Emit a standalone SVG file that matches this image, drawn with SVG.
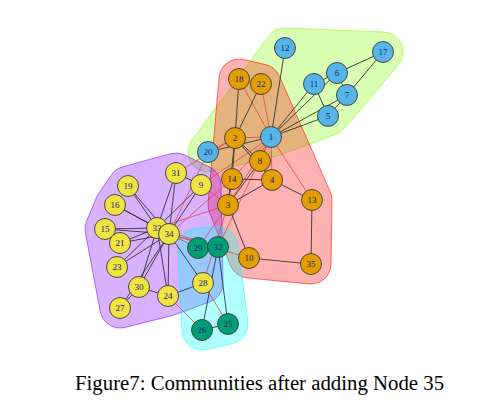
<svg xmlns="http://www.w3.org/2000/svg" width="482" height="413" viewBox="0 0 482 413">
<style>
.hull{stroke-width:1;stroke-opacity:0.55}
.e{stroke:#333333;stroke-width:0.9;fill:none}
.x{stroke:#e23c3c;stroke-opacity:0.8;stroke-width:0.9;fill:none}
.n circle{stroke:#3a3a3a;stroke-width:0.9}
.n text{font-family:"Liberation Serif","Times New Roman",serif;font-size:9px;fill:#10207a;text-anchor:middle}
.B circle{fill:#56B4E9}
.O circle{fill:#E69F00}
.T circle{fill:#009E73}
.Y circle{fill:#F0E442}
.cap{font-family:"Liberation Serif","Times New Roman",serif;font-size:20.8px;fill:#000}
</style>
<rect width="482" height="413" fill="#ffffff"/>
<g id="hulls">
<path id="hull-blue" class="hull" fill="#80FF00" fill-opacity="0.3" stroke="#80FF00" d="M 191.93,140.10 L 268.93,36.10 A 20 20 0 0 1 285.82,28.02 L 383.82,32.02 A 20 20 0 0 1 398.34,64.84 L 362.34,107.84 A 20 20 0 0 1 361.83,108.42 L 342.83,129.42 A 20 20 0 0 1 334.91,134.77 L 277.91,155.77 A 20 20 0 0 1 275.63,156.46 L 212.63,171.46 A 20 20 0 0 1 191.93,140.10 Z"/>
<path id="hull-orange" class="hull" fill="#FF0000" fill-opacity="0.3" stroke="#FF0000" d="M 243.43,59.50 L 265.43,64.50 A 20 20 0 0 1 279.31,75.95 L 330.31,191.95 A 20 20 0 0 1 332.00,200.31 L 331.00,264.31 A 20 20 0 0 1 309.07,283.91 L 247.07,277.91 A 20 20 0 0 1 230.41,265.37 L 209.41,212.37 A 20 20 0 0 1 208.08,203.26 L 219.08,77.26 A 20 20 0 0 1 243.43,59.50 Z"/>
<path id="hull-yellow" class="hull" fill="#8000FF" fill-opacity="0.3" stroke="#8000FF" d="M 122.77,166.70 L 170.77,153.70 A 20 20 0 0 1 184.65,154.97 L 209.65,166.97 A 20 20 0 0 1 221.00,184.59 L 223.00,282.59 A 20 20 0 0 1 209.96,301.75 L 174.96,314.75 A 20 20 0 0 1 172.85,315.40 L 124.85,327.40 A 20 20 0 0 1 100.35,311.73 L 85.35,232.73 A 20 20 0 0 1 86.54,221.31 L 96.54,197.31 A 20 20 0 0 1 98.49,193.71 L 111.49,174.71 A 20 20 0 0 1 122.77,166.70 Z"/>
<path id="hull-teal" class="hull" fill="#00FFFF" fill-opacity="0.3" stroke="#00FFFF" d="M 197.00,228.02 L 217.00,227.02 A 20 20 0 0 1 237.83,244.42 L 247.83,321.42 A 20 20 0 0 1 232.50,343.49 L 206.50,349.49 A 20 20 0 0 1 182.02,330.97 L 178.02,248.97 A 20 20 0 0 1 197.00,228.02 Z"/>
</g>
<g id="connectors">
<line class="x" x1="271" y1="137" x2="235" y2="138"/>
<line class="x" x1="271" y1="137" x2="228" y2="205"/>
<line class="x" x1="271" y1="137" x2="272" y2="180"/>
<line class="e" x1="271" y1="137" x2="328" y2="116"/>
<line class="e" x1="271" y1="137" x2="337" y2="73"/>
<line class="e" x1="271" y1="137" x2="347" y2="95"/>
<line class="x" x1="271" y1="137" x2="260" y2="161"/>
<line class="x" x1="271" y1="137" x2="201" y2="185"/>
<line class="e" x1="271" y1="137" x2="314" y2="84"/>
<line class="e" x1="271" y1="137" x2="285" y2="48"/>
<line class="x" x1="271" y1="137" x2="312" y2="200"/>
<line class="x" x1="271" y1="137" x2="232" y2="179"/>
<line class="x" x1="271" y1="137" x2="239" y2="79"/>
<line class="e" x1="271" y1="137" x2="208" y2="152"/>
<line class="x" x1="271" y1="137" x2="261" y2="84"/>
<line class="x" x1="271" y1="137" x2="218" y2="247"/>
<line class="e" x1="235" y1="138" x2="228" y2="205"/>
<line class="e" x1="235" y1="138" x2="272" y2="180"/>
<line class="e" x1="235" y1="138" x2="260" y2="161"/>
<line class="e" x1="235" y1="138" x2="232" y2="179"/>
<line class="e" x1="235" y1="138" x2="239" y2="79"/>
<line class="x" x1="235" y1="138" x2="208" y2="152"/>
<line class="e" x1="235" y1="138" x2="261" y2="84"/>
<line class="x" x1="235" y1="138" x2="176" y2="173"/>
<line class="e" x1="228" y1="205" x2="272" y2="180"/>
<line class="e" x1="228" y1="205" x2="260" y2="161"/>
<line class="x" x1="228" y1="205" x2="201" y2="185"/>
<line class="e" x1="228" y1="205" x2="249" y2="258"/>
<line class="e" x1="228" y1="205" x2="232" y2="179"/>
<line class="x" x1="228" y1="205" x2="203" y2="283"/>
<line class="x" x1="228" y1="205" x2="198" y2="248"/>
<line class="x" x1="228" y1="205" x2="157" y2="228"/>
<line class="e" x1="272" y1="180" x2="260" y2="161"/>
<line class="e" x1="272" y1="180" x2="312" y2="200"/>
<line class="e" x1="272" y1="180" x2="232" y2="179"/>
<line class="e" x1="328" y1="116" x2="347" y2="95"/>
<line class="e" x1="328" y1="116" x2="314" y2="84"/>
<line class="e" x1="337" y1="73" x2="347" y2="95"/>
<line class="e" x1="337" y1="73" x2="314" y2="84"/>
<line class="e" x1="337" y1="73" x2="383" y2="52"/>
<line class="e" x1="347" y1="95" x2="383" y2="52"/>
<line class="e" x1="201" y1="185" x2="176" y2="173"/>
<line class="e" x1="201" y1="185" x2="157" y2="228"/>
<line class="e" x1="201" y1="185" x2="169" y2="234"/>
<line class="x" x1="249" y1="258" x2="169" y2="234"/>
<line class="x" x1="232" y1="179" x2="169" y2="234"/>
<line class="e" x1="105" y1="229" x2="157" y2="228"/>
<line class="e" x1="105" y1="229" x2="169" y2="234"/>
<line class="e" x1="115" y1="205" x2="157" y2="228"/>
<line class="e" x1="115" y1="205" x2="169" y2="234"/>
<line class="e" x1="128" y1="186" x2="157" y2="228"/>
<line class="e" x1="128" y1="186" x2="169" y2="234"/>
<line class="x" x1="208" y1="152" x2="169" y2="234"/>
<line class="e" x1="120" y1="243" x2="157" y2="228"/>
<line class="e" x1="120" y1="243" x2="169" y2="234"/>
<line class="e" x1="117" y1="267" x2="157" y2="228"/>
<line class="e" x1="117" y1="267" x2="169" y2="234"/>
<line class="x" x1="168" y1="296" x2="202" y2="330"/>
<line class="e" x1="168" y1="296" x2="203" y2="283"/>
<line class="e" x1="168" y1="296" x2="139" y2="287"/>
<line class="e" x1="168" y1="296" x2="157" y2="228"/>
<line class="e" x1="168" y1="296" x2="169" y2="234"/>
<line class="e" x1="228" y1="324" x2="202" y2="330"/>
<line class="x" x1="228" y1="324" x2="203" y2="283"/>
<line class="e" x1="228" y1="324" x2="218" y2="247"/>
<line class="e" x1="202" y1="330" x2="218" y2="247"/>
<line class="e" x1="120" y1="308" x2="139" y2="287"/>
<line class="e" x1="120" y1="308" x2="169" y2="234"/>
<line class="e" x1="203" y1="283" x2="169" y2="234"/>
<line class="e" x1="198" y1="248" x2="218" y2="247"/>
<line class="x" x1="198" y1="248" x2="169" y2="234"/>
<line class="e" x1="139" y1="287" x2="157" y2="228"/>
<line class="e" x1="139" y1="287" x2="169" y2="234"/>
<line class="e" x1="176" y1="173" x2="157" y2="228"/>
<line class="e" x1="176" y1="173" x2="169" y2="234"/>
<line class="x" x1="218" y1="247" x2="157" y2="228"/>
<line class="x" x1="218" y1="247" x2="169" y2="234"/>
<line class="e" x1="157" y1="228" x2="169" y2="234"/>
<line class="e" x1="249" y1="258" x2="311" y2="264"/>
<line class="e" x1="312" y1="200" x2="311" y2="264"/>
</g>
<g id="nodes">
<g id="node-12" class="n B"><circle cx="285" cy="48" r="10.5"/><text x="285" y="51">12</text></g>
<g id="node-17" class="n B"><circle cx="383" cy="52" r="10.5"/><text x="383" y="55">17</text></g>
<g id="node-6" class="n B"><circle cx="337" cy="73" r="10.5"/><text x="337" y="76">6</text></g>
<g id="node-11" class="n B"><circle cx="314" cy="84" r="10.5"/><text x="314" y="87">11</text></g>
<g id="node-7" class="n B"><circle cx="347" cy="95" r="10.5"/><text x="347" y="98">7</text></g>
<g id="node-5" class="n B"><circle cx="328" cy="116" r="10.5"/><text x="328" y="119">5</text></g>
<g id="node-1" class="n B"><circle cx="271" cy="137" r="10.5"/><text x="271" y="140">1</text></g>
<g id="node-20" class="n B"><circle cx="208" cy="152" r="10.5"/><text x="208" y="155">20</text></g>
<g id="node-18" class="n O"><circle cx="239" cy="79" r="10.5"/><text x="239" y="82">18</text></g>
<g id="node-22" class="n O"><circle cx="261" cy="84" r="10.5"/><text x="261" y="87">22</text></g>
<g id="node-2" class="n O"><circle cx="235" cy="138" r="10.5"/><text x="235" y="141">2</text></g>
<g id="node-8" class="n O"><circle cx="260" cy="161" r="10.5"/><text x="260" y="164">8</text></g>
<g id="node-14" class="n O"><circle cx="232" cy="179" r="10.5"/><text x="232" y="182">14</text></g>
<g id="node-4" class="n O"><circle cx="272" cy="180" r="10.5"/><text x="272" y="183">4</text></g>
<g id="node-3" class="n O"><circle cx="228" cy="205" r="10.5"/><text x="228" y="208">3</text></g>
<g id="node-13" class="n O"><circle cx="312" cy="200" r="10.5"/><text x="312" y="203">13</text></g>
<g id="node-10" class="n O"><circle cx="249" cy="258" r="10.5"/><text x="249" y="261">10</text></g>
<g id="node-35" class="n O"><circle cx="311" cy="264" r="10.5"/><text x="311" y="267">35</text></g>
<g id="node-31" class="n Y"><circle cx="176" cy="173" r="10.5"/><text x="176" y="176">31</text></g>
<g id="node-9" class="n Y"><circle cx="201" cy="185" r="10.5"/><text x="201" y="188">9</text></g>
<g id="node-19" class="n Y"><circle cx="128" cy="186" r="10.5"/><text x="128" y="189">19</text></g>
<g id="node-16" class="n Y"><circle cx="115" cy="205" r="10.5"/><text x="115" y="208">16</text></g>
<g id="node-15" class="n Y"><circle cx="105" cy="229" r="10.5"/><text x="105" y="232">15</text></g>
<g id="node-21" class="n Y"><circle cx="120" cy="243" r="10.5"/><text x="120" y="246">21</text></g>
<g id="node-23" class="n Y"><circle cx="117" cy="267" r="10.5"/><text x="117" y="270">23</text></g>
<g id="node-33" class="n Y"><circle cx="157" cy="228" r="10.5"/><text x="157" y="231">33</text></g>
<g id="node-34" class="n Y"><circle cx="169" cy="234" r="10.5"/><text x="169" y="237">34</text></g>
<g id="node-30" class="n Y"><circle cx="139" cy="287" r="10.5"/><text x="139" y="290">30</text></g>
<g id="node-27" class="n Y"><circle cx="120" cy="308" r="10.5"/><text x="120" y="311">27</text></g>
<g id="node-24" class="n Y"><circle cx="168" cy="296" r="10.5"/><text x="168" y="299">24</text></g>
<g id="node-28" class="n Y"><circle cx="203" cy="283" r="10.5"/><text x="203" y="286">28</text></g>
<g id="node-29" class="n T"><circle cx="198" cy="248" r="10.5"/><text x="198" y="251">29</text></g>
<g id="node-32" class="n T"><circle cx="218" cy="247" r="10.5"/><text x="218" y="250">32</text></g>
<g id="node-26" class="n T"><circle cx="202" cy="330" r="10.5"/><text x="202" y="333">26</text></g>
<g id="node-25" class="n T"><circle cx="228" cy="324" r="10.5"/><text x="228" y="327">25</text></g>
</g>
<text class="cap" x="75" y="390">Figure7: Communities after adding Node 35</text>
</svg>
